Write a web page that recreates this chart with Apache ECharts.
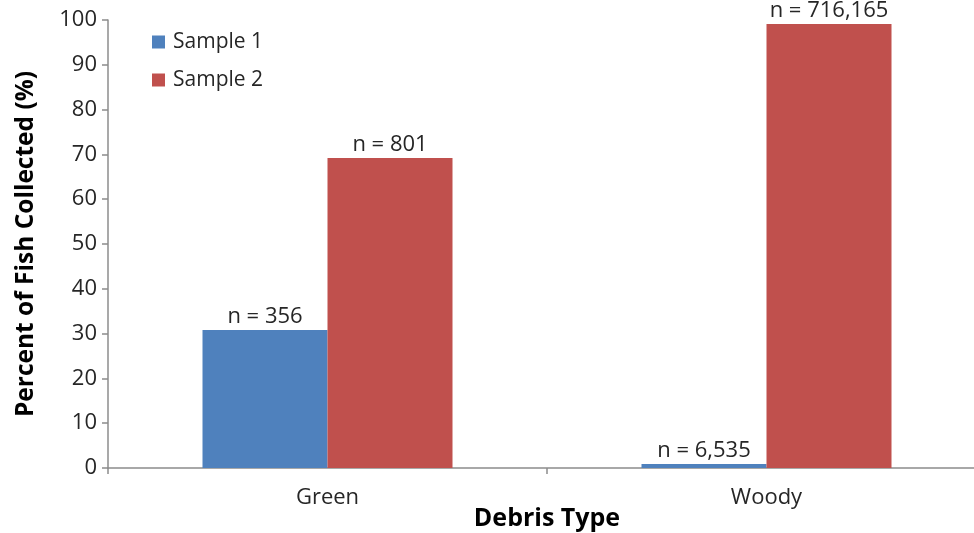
<!DOCTYPE html>
<html>
<head>
<meta charset="utf-8">
<script src="https://cdn.jsdelivr.net/npm/echarts@6/dist/echarts.min.js"></script>
<style>
  html, body { margin: 0; padding: 0; background: #ffffff; }
  #chart { width: 974px; height: 533px; }
</style>
</head>
<body>
<div id="chart"></div>
<script>
// Debris types on the category axis
const categories = ['Green', 'Woody'];
// Percent of fish collected per sample
const sample1Values = [30.8, 0.9];
const sample2Values = [69.2, 99.1];
// Fish counts printed above each bar
const sample1Counts = ['n = 356', 'n = 6,535'];
const sample2Counts = ['n = 801', 'n = 716,165'];
// Value axis tick range
const yMin = 0, yMax = 100, yStep = 10;

const FONT = '"Open Sans", sans-serif';
const TEXT = '#262626';
const AXIS = '#8c8c8c';

const chart = echarts.init(document.getElementById('chart'), null, { renderer: 'canvas' });

function barLabel(counts) {
  return {
    show: true,
    position: 'top',
    distance: 2,
    fontFamily: FONT,
    fontSize: 22,
    color: TEXT,
    formatter: p => counts[p.dataIndex]
  };
}

chart.setOption({
  animation: false,
  backgroundColor: '#ffffff',
  textStyle: { fontFamily: FONT },
  grid: {
    left: 108, top: 20, width: 878, height: 448,
    containLabel: false,
    outerBoundsMode: 'none'
  },
  legend: {
    orient: 'vertical',
    left: 147,
    top: 26,
    itemWidth: 13,
    itemHeight: 13,
    itemGap: 16,
    icon: 'rect',
    textStyle: { fontFamily: FONT, fontSize: 21, color: TEXT, lineHeight: 22, padding: [0, 0, 0, 3] },
    data: ['Sample 1', 'Sample 2']
  },
  xAxis: {
    type: 'category',
    data: categories,
    name: 'Debris Type',
    nameLocation: 'middle',
    nameGap: 38,
    nameMoveOverlap: false,
    nameTextStyle: { fontFamily: FONT, fontSize: 25, fontWeight: 'bold', color: '#000000' },
    axisLine: { lineStyle: { color: AXIS, width: 1.5 } },
    axisTick: { show: true, length: 6, lineStyle: { color: AXIS, width: 1.5 } },
    axisLabel: { fontFamily: FONT, fontSize: 22, color: TEXT, margin: 19 },
    splitLine: { show: false }
  },
  yAxis: {
    type: 'value',
    min: yMin,
    max: yMax,
    interval: yStep,
    name: 'Percent of Fish Collected (%)',
    nameLocation: 'middle',
    nameGap: 69,
    nameMoveOverlap: false,
    nameTextStyle: { fontFamily: FONT, fontSize: 24.5, fontWeight: 'bold', color: '#000000' },
    axisLine: { show: true, lineStyle: { color: AXIS, width: 1.5 } },
    axisTick: { show: true, length: 6, lineStyle: { color: AXIS, width: 1.5 } },
    axisLabel: { fontFamily: FONT, fontSize: 22, color: TEXT, margin: 11 },
    splitLine: { show: false }
  },
  series: [
    {
      name: 'Sample 1',
      type: 'bar',
      data: sample1Values,
      barWidth: 125,
      barGap: '0%',
      itemStyle: { color: '#4F81BD' },
      label: barLabel(sample1Counts)
    },
    {
      name: 'Sample 2',
      type: 'bar',
      data: sample2Values,
      barWidth: 125,
      barGap: '0%',
      itemStyle: { color: '#C0504D' },
      label: barLabel(sample2Counts)
    }
  ]
});
</script>
</body>
</html>
